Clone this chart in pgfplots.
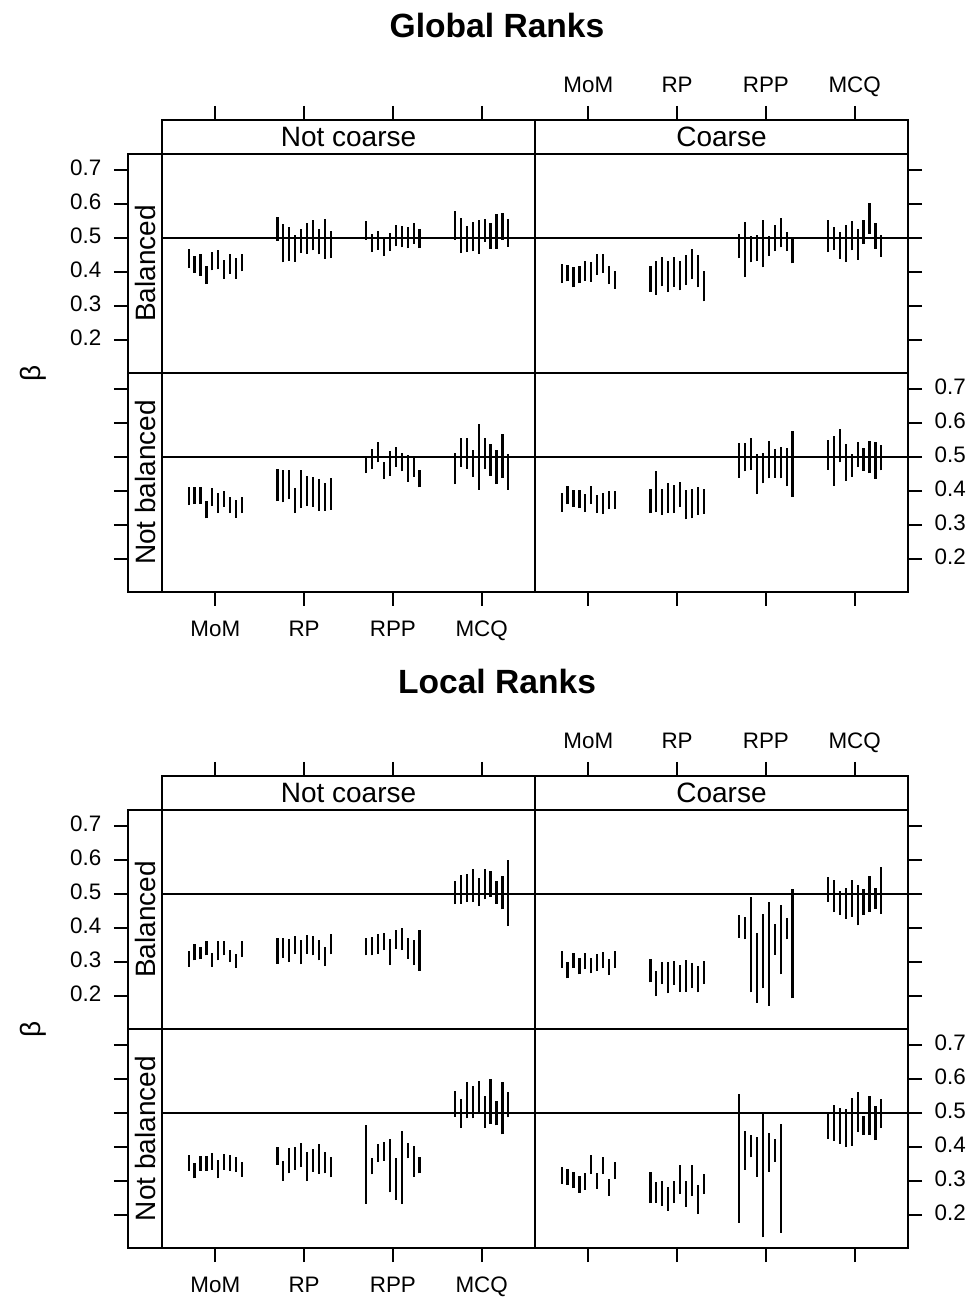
\documentclass[border=0pt]{standalone}
\usepackage{pgfplots}
\pgfplotsset{compat=1.18}
\usepackage{pgfplotstable}
\usepackage{fontspec}
\setmainfont{Liberation Sans}

% columns: k, MoM lo/hi (a,b), RP (c,d), RPP (e,f), MCQ (g,h)
\pgfplotstableread{
k a b c d e f g h
1 0.412 0.469 0.493 0.562 0.496 0.552 0.496 0.579
2 0.398 0.449 0.429 0.542 0.459 0.513 0.456 0.559
3 0.390 0.454 0.434 0.534 0.466 0.521 0.459 0.537
4 0.365 0.417 0.431 0.508 0.447 0.503 0.461 0.547
5 0.405 0.459 0.456 0.526 0.462 0.516 0.454 0.554
6 0.408 0.466 0.454 0.544 0.476 0.539 0.490 0.557
7 0.380 0.437 0.464 0.554 0.473 0.537 0.469 0.544
8 0.395 0.452 0.452 0.526 0.471 0.532 0.469 0.571
9 0.380 0.441 0.439 0.557 0.483 0.544 0.495 0.575
10 0.402 0.454 0.441 0.520 0.471 0.526 0.475 0.557
}\GBN
\pgfplotstableread{
k a b c d e f g h
1 0.368 0.424 0.343 0.419 0.441 0.513 0.459 0.554
2 0.373 0.422 0.333 0.434 0.385 0.547 0.466 0.534
3 0.355 0.414 0.358 0.446 0.429 0.506 0.439 0.518
4 0.368 0.419 0.341 0.434 0.434 0.508 0.431 0.539
5 0.375 0.434 0.357 0.446 0.414 0.554 0.464 0.552
6 0.372 0.429 0.346 0.434 0.449 0.505 0.436 0.528
7 0.392 0.452 0.362 0.451 0.462 0.540 0.483 0.555
8 0.398 0.454 0.380 0.469 0.473 0.560 0.513 0.604
9 0.365 0.419 0.355 0.451 0.462 0.518 0.469 0.545
10 0.351 0.403 0.314 0.402 0.426 0.498 0.446 0.510
}\GBC
\pgfplotstableread{
k a b c d e f g h
1 0.359 0.411 0.371 0.466 0.453 0.505 0.421 0.512
2 0.362 0.413 0.367 0.463 0.465 0.525 0.472 0.556
3 0.362 0.413 0.377 0.461 0.485 0.544 0.466 0.558
4 0.320 0.371 0.335 0.409 0.436 0.487 0.443 0.522
5 0.356 0.409 0.350 0.461 0.445 0.517 0.404 0.597
6 0.335 0.394 0.357 0.446 0.472 0.531 0.465 0.556
7 0.354 0.399 0.354 0.443 0.458 0.512 0.446 0.539
8 0.335 0.384 0.342 0.435 0.428 0.507 0.421 0.520
9 0.322 0.374 0.342 0.423 0.443 0.505 0.440 0.569
10 0.335 0.384 0.345 0.438 0.411 0.463 0.404 0.510
}\GNN
\pgfplotstableread{
k a b c d e f g h
1 0.340 0.396 0.335 0.407 0.440 0.541 0.463 0.551
2 0.362 0.415 0.338 0.458 0.458 0.543 0.416 0.563
3 0.354 0.404 0.330 0.406 0.463 0.556 0.485 0.583
4 0.350 0.404 0.335 0.423 0.391 0.509 0.430 0.538
5 0.338 0.391 0.335 0.418 0.423 0.512 0.443 0.509
6 0.362 0.415 0.354 0.426 0.438 0.548 0.471 0.546
7 0.335 0.389 0.317 0.404 0.440 0.525 0.460 0.527
8 0.332 0.394 0.320 0.407 0.438 0.529 0.453 0.548
9 0.348 0.401 0.330 0.413 0.415 0.527 0.436 0.546
10 0.347 0.401 0.333 0.406 0.384 0.576 0.461 0.536
}\GNC
\pgfplotstableread{
k a b c d e f g h
1 0.286 0.332 0.295 0.372 0.320 0.372 0.471 0.539
2 0.305 0.352 0.313 0.372 0.320 0.374 0.472 0.556
3 0.308 0.345 0.300 0.369 0.325 0.382 0.477 0.559
4 0.320 0.362 0.325 0.376 0.335 0.386 0.477 0.574
5 0.286 0.328 0.293 0.364 0.291 0.369 0.465 0.549
6 0.305 0.362 0.325 0.379 0.340 0.394 0.485 0.574
7 0.320 0.362 0.320 0.376 0.335 0.399 0.492 0.569
8 0.300 0.335 0.305 0.364 0.310 0.372 0.472 0.538
9 0.283 0.325 0.288 0.345 0.291 0.366 0.455 0.554
10 0.315 0.362 0.323 0.382 0.274 0.394 0.406 0.600
}\LBN
\pgfplotstableread{
k a b c d e f g h
1 0.284 0.333 0.240 0.309 0.372 0.439 0.478 0.552
2 0.252 0.301 0.200 0.274 0.367 0.434 0.447 0.542
3 0.284 0.328 0.235 0.299 0.211 0.491 0.439 0.510
4 0.264 0.313 0.208 0.301 0.180 0.385 0.427 0.518
5 0.280 0.326 0.233 0.303 0.223 0.441 0.434 0.542
6 0.267 0.313 0.213 0.292 0.171 0.478 0.408 0.528
7 0.274 0.323 0.213 0.306 0.321 0.412 0.439 0.515
8 0.282 0.331 0.225 0.296 0.264 0.469 0.449 0.554
9 0.262 0.309 0.211 0.290 0.367 0.431 0.457 0.518
10 0.282 0.333 0.235 0.303 0.193 0.515 0.441 0.580
}\LBC
\pgfplotstableread{
k a b c d e f g h
1 0.331 0.377 0.348 0.400 0.233 0.464 0.490 0.566
2 0.308 0.354 0.301 0.359 0.320 0.369 0.456 0.542
3 0.330 0.375 0.323 0.397 0.357 0.409 0.485 0.591
4 0.330 0.375 0.333 0.400 0.360 0.416 0.485 0.581
5 0.333 0.382 0.341 0.412 0.267 0.423 0.500 0.595
6 0.308 0.362 0.300 0.385 0.244 0.369 0.456 0.551
7 0.333 0.379 0.328 0.395 0.232 0.448 0.468 0.600
8 0.331 0.377 0.321 0.409 0.367 0.413 0.464 0.536
9 0.328 0.370 0.323 0.387 0.313 0.402 0.438 0.591
10 0.313 0.355 0.311 0.372 0.323 0.372 0.488 0.562
}\LNN
\pgfplotstableread{
k a b c d e f g h
1 0.292 0.341 0.235 0.326 0.177 0.556 0.424 0.500
2 0.289 0.335 0.236 0.298 0.333 0.448 0.418 0.525
3 0.279 0.328 0.228 0.300 0.370 0.436 0.410 0.515
4 0.266 0.316 0.212 0.282 0.313 0.431 0.400 0.513
5 0.274 0.323 0.235 0.300 0.134 0.505 0.404 0.546
6 0.321 0.377 0.262 0.348 0.328 0.443 0.446 0.562
7 0.277 0.323 0.225 0.300 0.357 0.423 0.436 0.493
8 0.321 0.372 0.256 0.348 0.148 0.469 0.436 0.551
9 0.257 0.305 0.203 0.289 nan nan 0.421 0.522
10 0.306 0.355 0.262 0.321 nan nan 0.456 0.541
}\LNC

\tikzset{lw/.style={line width=0.9pt}}
\pgfplotsset{
  common/.style={scale only axis, anchor=south west,
    axis line style={lw, black}, tick style={lw, black},
    tick align=outside, major tick length=7pt,
    ticklabel style={font=\fontsize{11.2}{13}\selectfont},
    typeset ticklabels with strut,
    /pgf/number format/assume math mode=true,
    /pgf/number format/fixed, /pgf/number format/precision=1,
    /pgf/number format/fixed zerofill},
  panel/.style={common, width=186.5pt, height=109.5pt,
    xmin=0.4, xmax=4.6, ymin=0.103, ymax=0.748, xtick=\empty, ytick=\empty},
  rowframe/.style={common, width=390pt, height=109.5pt,
    xmin=0, xmax=1, ymin=0.103, ymax=0.748, xtick=\empty,
    ytick={0.2,0.3,0.4,0.5,0.6,0.7}, ytick pos=both, yticklabel shift=2.8pt},
  colframe/.style={common, width=186.5pt, height=236pt,
    xmin=0.4, xmax=4.6, ymin=0, ymax=1, ytick=\empty,
    xtick={1,2,3,4}, xticklabels={MoM,RP,RPP,MCQ}, xtick pos=both},
  seg/.style={draw=none, mark=none,
    error bars/.cd, y dir=plus, y explicit, error mark=none,
    error bar style={line width=1.1pt, draw=black, solid}},
}

% positions are given in pixels of the 972x1298 reference (1px = 0.5pt)
\newcommand{\at}[2]{at={({(#1)*0.5pt},{(#2)*0.5pt})}}

\newcommand{\panel}[3]{%
\begin{axis}[panel, \at{#1}{#2}]
\addplot[black, lw] coordinates {(0.4,0.5) (4.6,0.5)};
\addplot[seg] table[x expr=1+(\thisrow{k}-5.5)/15, y=a, y error plus expr=\thisrow{b}-\thisrow{a}] {#3};
\addplot[seg] table[x expr=2+(\thisrow{k}-5.5)/15, y=c, y error plus expr=\thisrow{d}-\thisrow{c}] {#3};
\addplot[seg] table[x expr=3+(\thisrow{k}-5.5)/15, y=e, y error plus expr=\thisrow{f}-\thisrow{e}] {#3};
\addplot[seg] table[x expr=4+(\thisrow{k}-5.5)/15, y=g, y error plus expr=\thisrow{h}-\thisrow{g}] {#3};
\end{axis}}

% #1 vertical offset, #2 title, #3-#6 tables: BN, BC, NN, NC
\newcommand{\rankplot}[6]{%
\node[font=\bfseries\fontsize{16.8}{20}\selectfont] at (497,{1273-#1}) {#2};
\node[rotate=90, font=\fontsize{14}{16}\selectfont] at (33,{925-#1}) {β};
\panel{162}{925-#1}{#3}
\panel{535}{925-#1}{#4}
\panel{162}{706-#1}{#5}
\panel{535}{706-#1}{#6}
\begin{axis}[rowframe, \at{128}{925-#1}, yticklabel pos=left]\end{axis}
\begin{axis}[rowframe, \at{128}{706-#1}, yticklabel pos=right]\end{axis}
\begin{axis}[colframe, \at{162}{706-#1}, xticklabel pos=bottom, xticklabel shift=2.8pt]\end{axis}
\begin{axis}[colframe, \at{535}{706-#1}, xticklabel pos=top, xticklabel shift=-0.8pt]\end{axis}
\node[font=\fontsize{14}{16}\selectfont] at (348.5,{1161-#1}) {Not coarse};
\node[font=\fontsize{14}{16}\selectfont] at (721.5,{1161-#1}) {Coarse};
\node[rotate=90, font=\fontsize{14}{16}\selectfont] at (145,{1034.5-#1}) {Balanced};
\node[rotate=90, font=\fontsize{14}{16}\selectfont] at (145,{815.5-#1}) {Not balanced};
}

\begin{document}
\begin{tikzpicture}[x=0.5pt, y=0.5pt]
\useasboundingbox (0,0) rectangle (972,1298);
\rankplot{0}{Global Ranks}{\GBN}{\GBC}{\GNN}{\GNC}
\rankplot{656}{Local Ranks}{\LBN}{\LBC}{\LNN}{\LNC}
\end{tikzpicture}
\end{document}
